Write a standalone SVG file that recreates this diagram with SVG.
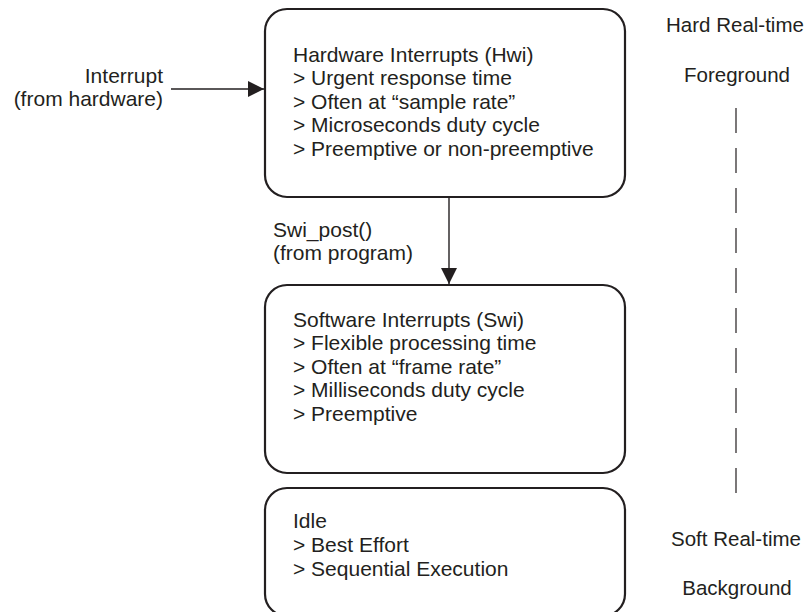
<svg xmlns="http://www.w3.org/2000/svg" width="809" height="612" viewBox="0 0 809 612">
<style>
text{font-family:"Liberation Sans",Arial,sans-serif;font-size:21px;fill:#231f20}
.box{fill:#fff;stroke:#231f20;stroke-width:2.2}
.con{stroke:#231f20;stroke-width:1.4;fill:none}
.side{font-size:20.5px;text-anchor:middle}
.dash{stroke:#231f20;stroke-width:1.2;stroke-dasharray:25 15}
</style>
<defs>
<marker id="ah" markerWidth="16" markerHeight="16" viewBox="0 0 16 16" refX="16" refY="8" orient="auto" markerUnits="userSpaceOnUse">
<path d="M0,0 L16,8 L0,16 Z" fill="#231f20"/>
</marker>
</defs>
<rect width="809" height="612" fill="#fff"/>
<g id="hwi">
<rect class="box" x="265" y="9" width="360" height="188" rx="22"/>
<text x="293" y="62">Hardware Interrupts (Hwi)</text>
<text x="293" y="85">&gt; Urgent response time</text>
<text x="293" y="108.5">&gt; Often at “sample rate”</text>
<text x="293" y="132">&gt; Microseconds duty cycle</text>
<text x="293" y="155.5">&gt; Preemptive or non-preemptive</text>
</g>
<g id="swi">
<rect class="box" x="265" y="285" width="360" height="188" rx="22"/>
<text x="293" y="327">Software Interrupts (Swi)</text>
<text x="293" y="350">&gt; Flexible processing time</text>
<text x="293" y="373.5">&gt; Often at “frame rate”</text>
<text x="293" y="397">&gt; Milliseconds duty cycle</text>
<text x="293" y="420.5">&gt; Preemptive</text>
</g>
<g id="idle">
<rect class="box" x="265" y="488" width="360" height="128" rx="22"/>
<text x="293" y="528">Idle</text>
<text x="293" y="552">&gt; Best Effort</text>
<text x="293" y="576">&gt; Sequential Execution</text>
</g>
<g id="labels">
<text x="163" y="83" text-anchor="end">Interrupt</text>
<text x="163" y="106" text-anchor="end">(from hardware)</text>
<text x="273" y="237">Swi_post()</text>
<text x="273" y="260">(from program)</text>
<text class="side" x="735" y="32">Hard Real-time</text>
<text class="side" x="737" y="82">Foreground</text>
<text class="side" x="736" y="546">Soft Real-time</text>
<text class="side" x="737" y="595">Background</text>
</g>
<g id="connectors">
<line class="con" x1="171" y1="89" x2="264" y2="89" marker-end="url(#ah)"/>
<line class="con" x1="449" y1="198" x2="449" y2="284" marker-end="url(#ah)"/>
<line class="dash" x1="736" y1="108" x2="736" y2="493"/>
</g>
</svg>
